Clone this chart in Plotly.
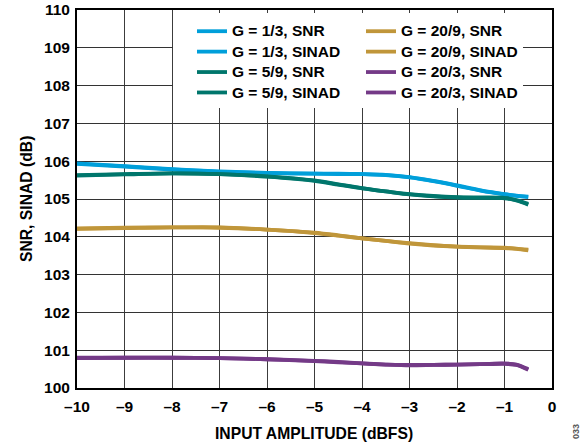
import plotly.graph_objects as go

x_vals = [-10, -9, -8, -7, -6, -5, -4.5, -4, -3.5, -3, -2.5, -2, -1.5, -1, -0.75, -0.5]

snr_g13 = [105.94, 105.87, 105.79, 105.73, 105.69, 105.67, 105.67, 105.66, 105.64, 105.58, 105.48, 105.36, 105.23, 105.13, 105.09, 105.06]
sinad_g13 = [105.93, 105.86, 105.78, 105.72, 105.69, 105.67, 105.66, 105.66, 105.63, 105.57, 105.47, 105.35, 105.22, 105.12, 105.08, 105.05]
snr_g59 = [105.63, 105.66, 105.68, 105.66, 105.60, 105.49, 105.39, 105.29, 105.20, 105.13, 105.08, 105.05, 105.04, 105.03, 104.97, 104.87]
sinad_g59 = [105.62, 105.65, 105.68, 105.66, 105.59, 105.48, 105.38, 105.28, 105.20, 105.12, 105.07, 105.04, 105.03, 105.02, 104.96, 104.85]
snr_g209 = [104.22, 104.24, 104.25, 104.25, 104.19, 104.11, 104.04, 103.96, 103.89, 103.83, 103.78, 103.74, 103.72, 103.71, 103.69, 103.66]
sinad_g209 = [104.21, 104.23, 104.25, 104.24, 104.19, 104.10, 104.03, 103.96, 103.89, 103.82, 103.77, 103.74, 103.72, 103.70, 103.68, 103.64]
snr_g203 = [100.80, 100.80, 100.80, 100.79, 100.76, 100.72, 100.69, 100.65, 100.62, 100.61, 100.61, 100.62, 100.63, 100.65, 100.62, 100.50]
sinad_g203 = [100.79, 100.80, 100.80, 100.79, 100.76, 100.71, 100.68, 100.65, 100.62, 100.60, 100.61, 100.62, 100.63, 100.64, 100.61, 100.48]

series_names = ["G = 1/3, SNR", "G = 1/3, SINAD", "G = 5/9, SNR", "G = 5/9, SINAD",
                "G = 20/9, SNR", "G = 20/9, SINAD", "G = 20/3, SNR", "G = 20/3, SINAD"]
series_values = [snr_g13, sinad_g13, snr_g59, sinad_g59, snr_g209, sinad_g209, snr_g203, sinad_g203]
series_colors = ["#009FDA", "#009FDA", "#00766C", "#00766C",
                 "#C0963A", "#C0963A", "#743A87", "#743A87"]

x_ticks = [-10, -9, -8, -7, -6, -5, -4, -3, -2, -1, 0]
x_tick_text = ["\u201310", "\u20139", "\u20138", "\u20137", "\u20136", "\u20135", "\u20134", "\u20133", "\u20132", "\u20131", "0"]
y_ticks = list(range(100, 111))

FONT = "Liberation Sans, Arial, sans-serif"
BOLD = dict(family=FONT, size=15.5, color="black", weight="bold")

# plot area in pixels
L, R, T, B = 77, 552, 10, 388
W, H = R - L, B - T

fig = go.Figure()
for i, (name, vals, col) in enumerate(zip(series_names, series_values, series_colors)):
    fig.add_trace(go.Scatter(
        x=x_vals, y=vals, mode="lines",
        name="<span style='font-size:15.5px'>" + name + "</span>",
        line=dict(color=col, width=3.8, shape="spline", smoothing=0.8),
        legend="legend" if i < 4 else "legend2",
    ))

legend_common = dict(
    bgcolor="white", borderwidth=0,
    font=dict(family=FONT, size=13.4, color="black", weight="bold"),
    xanchor="left", yanchor="top", tracegroupgap=0,
)

fig.update_layout(
    width=583, height=444,
    margin=dict(l=L, r=583 - R, t=T, b=444 - B),
    paper_bgcolor="white", plot_bgcolor="white",
    font=BOLD,
    showlegend=True,
    legend=dict(x=(192 - L) / W, y=(B - 16) / H, **legend_common),
    legend2=dict(x=(361 - L) / W, y=(B - 16) / H, **legend_common),
    xaxis=dict(
        range=[-10, 0], tickvals=x_ticks, ticktext=x_tick_text,
        showgrid=True, gridcolor="#3c3c3c", gridwidth=1,
        showline=True, linecolor="black", linewidth=2, mirror=True,
        zeroline=False, ticks="", ticklabelstandoff=3, automargin=False,
        tickfont=BOLD,
    ),
    yaxis=dict(
        range=[100, 110], tickvals=y_ticks,
        showgrid=True, gridcolor="#333333", gridwidth=1,
        showline=True, linecolor="black", linewidth=2, mirror=True,
        zeroline=False, ticks="", ticklabelstandoff=2, automargin=False,
        tickfont=BOLD,
    ),
)

fig.add_shape(type="rect", xref="paper", yref="paper",
              x0=(173 - L) / W, x1=(523 - L) / W,
              y0=(B - 106) / H, y1=(B - 13) / H,
              fillcolor="white", line=dict(width=0), layer="above")

fig.add_annotation(text="INPUT AMPLITUDE (dBFS)", xref="paper", yref="paper",
                   x=(314 - L) / W, y=(B - 433) / H, showarrow=False,
                   xanchor="center", yanchor="middle",
                   font=dict(family=FONT, size=15.7, color="black", weight="bold"))
fig.add_annotation(text="SNR, SINAD (dB)", xref="paper", yref="paper",
                   x=(26 - L) / W, y=(B - 199) / H, showarrow=False, textangle=-90,
                   xanchor="center", yanchor="middle",
                   font=dict(family=FONT, size=15.7, color="black", weight="bold"))
fig.add_annotation(text="033", xref="paper", yref="paper",
                   x=(576 - L) / W, y=(B - 432) / H, showarrow=False, textangle=-90,
                   font=dict(family=FONT, size=9, color="#555555"),
                   xanchor="center", yanchor="middle")

fig.write_html("out.html", config={"displayModeBar": False},
               post_script="document.body.style.margin='0';document.body.style.padding='0';")
